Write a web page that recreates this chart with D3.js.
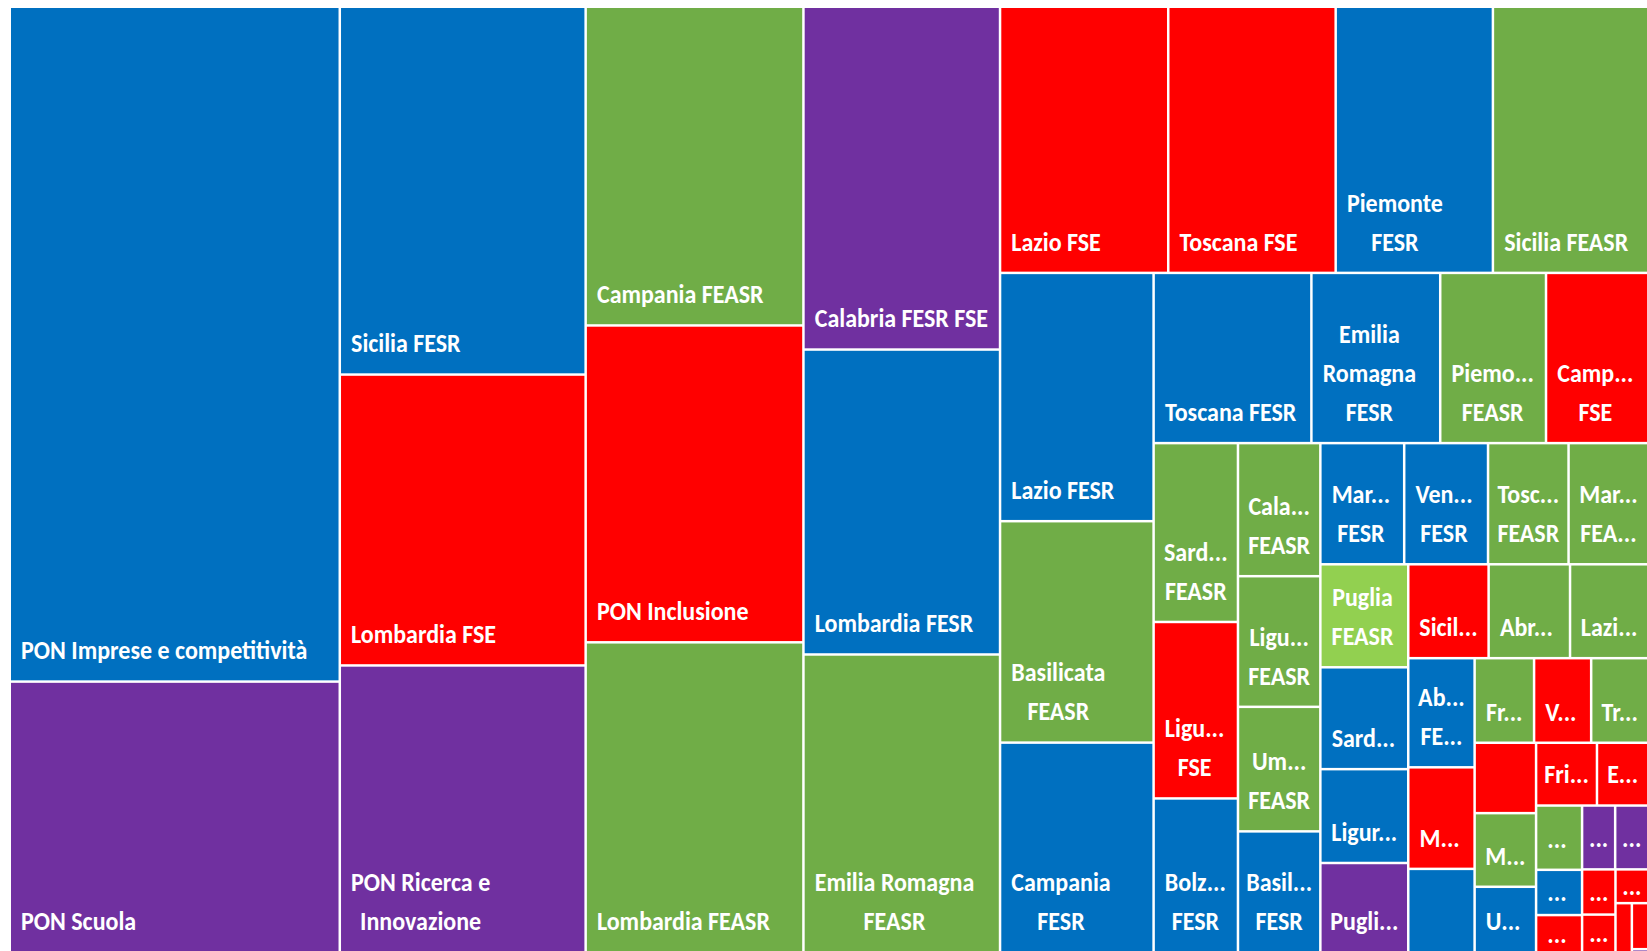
<!DOCTYPE html>
<html>
<head>
<meta charset="utf-8">
<script src="https://cdn.jsdelivr.net/npm/d3@7"></script>
<style>
    html, body { margin: 0; padding: 0; background: #ffffff; overflow: hidden; }
    #chart text {
        font-family: Carlito, Calibri, 'Liberation Sans Narrow', 'Arial Narrow', 'DejaVu Sans Condensed', sans-serif;
        font-weight: bold;
        font-size: 24px;
        fill: #ffffff;
    }
</style>
</head>
<body>
<svg id="chart"></svg>
<script>
// labels as shown in the picture ('|' = line break), in layout order
const labels = [
    'PON Imprese e competitività', 'PON Scuola',
    'Sicilia FESR', 'Lombardia FSE', 'PON Ricerca e|Innovazione',
    'Campania FEASR', 'PON Inclusione', 'Lombardia FEASR',
    'Calabria FESR FSE', 'Lombardia FESR', 'Emilia Romagna|FEASR',
    'Lazio FSE', 'Toscana FSE', 'Piemonte|FESR', 'Sicilia FEASR',
    'Lazio FESR', 'Basilicata|FEASR', 'Campania|FESR',
    'Toscana FESR', 'Emilia|Romagna|FESR', 'Piemo...|FEASR', 'Camp...|FSE',
    'Sard...|FEASR', 'Ligu...|FSE', 'Bolz...|FESR',
    'Cala...|FEASR', 'Ligu...|FEASR', 'Um...|FEASR', 'Basil...|FESR',
    'Mar...|FESR', 'Ven...|FESR', 'Tosc...|FEASR', 'Mar...|FEA...',
    'Puglia|FEASR', 'Sard...', 'Ligur...', 'Pugli...',
    'Sicil...', 'Abr...', 'Lazi...',
    'Ab...|FE...', 'M...', '',
    'Fr...', 'V...', 'Tr...',
    '', 'M...', 'U...',
    'Fri...', 'E...',
    '...', '...', '...',
    '...', '...',
    '...', '...',
    '...',
    '',
    '', ''
]

// fund of each programme
const funds = [
    'FESR', 'PLURI',
    'FESR', 'FSE', 'PLURI',
    'FEASR', 'FSE', 'FEASR',
    'PLURI', 'FESR', 'FEASR',
    'FSE', 'FSE', 'FESR', 'FEASR',
    'FESR', 'FEASR', 'FESR',
    'FESR', 'FESR', 'FEASR', 'FSE',
    'FEASR', 'FSE', 'FESR',
    'FEASR', 'FEASR', 'FEASR', 'FESR',
    'FESR', 'FESR', 'FEASR', 'FEASR',
    'FEASR', 'FESR', 'FESR', 'PLURI',
    'FSE', 'FEASR', 'FEASR',
    'FESR', 'FSE', 'FESR',
    'FEASR', 'FSE', 'FEASR',
    'FSE', 'FEASR', 'FESR',
    'FSE', 'FSE',
    'FEASR', 'FESR', 'FSE',
    'PLURI', 'PLURI',
    'FSE', 'FSE',
    'FSE',
    'FSE',
    'FSE', 'PLURI'
]

// relative amounts
const values = [
    221.4, 88.8,
    89.9, 71.1, 70.1,
    69.0, 68.6, 67.1,
    67.0, 59.6, 58.2,
    44.5, 44.3, 41.6, 41.1,
    37.9, 33.8, 32.0,
    26.7, 21.8, 17.9, 17.3,
    15.0, 14.8, 12.9,
    10.9, 10.7, 10.2, 9.9,
    10.1, 10.1, 9.7, 9.6,
    9.0, 8.9, 8.2, 7.8,
    7.5, 7.6, 7.3,
    7.2, 6.7, 5.5,
    5.0, 4.8, 4.8,
    4.3, 4.5, 4.0,
    3.8, 3.2,
    2.94, 2.07, 1.7,
    2.1, 2.1,
    1.5, 1.25,
    1.1,
    0.8,
    0.75, 0.05
]

// how the tiles are grouped into strips: 'v' = column on the left, 'h' = row on top
const strips = [2, 3, 3, 3, 4, 3, 4, 3, 4, 4, 4, 3, 3, 3, 3, 2, 3, 2, 2, 1, 1, 2]
const stripDirs = ['v', 'v', 'v', 'v', 'h', 'v', 'h', 'v', 'v', 'h', 'v', 'h', 'v', 'h', 'v', 'h', 'v', 'h', 'v', 'h', 'v', 'v']

const highlighted = 'Puglia|FEASR'

const fundColor = d3.scaleOrdinal()
    .domain(['FESR', 'FSE', 'FEASR', 'PLURI'])
    .range(['#0070c0', '#ff0000', '#70ad47', '#7030a0'])

// strip tiling, same idea as squarify but with the strips given above
const stripTile = (parent, x0, y0, x1, y1) => {
    const nodes = parent.children
    let rest = parent.value
    let i = 0
    strips.forEach((n, k) => {
        const children = nodes.slice(i, i + n)
        const row = { value: d3.sum(children, c => c.value), children }
        const last = k === strips.length - 1
        if (stripDirs[k] === 'v') {
            const xe = last ? x1 : x0 + (x1 - x0) * row.value / rest
            d3.treemapSlice(row, x0, y0, xe, y1)
            x0 = xe
        } else {
            const ye = last ? y1 : y0 + (y1 - y0) * row.value / rest
            d3.treemapDice(row, x0, y0, x1, ye)
            y0 = ye
        }
        rest -= row.value
        i += n
    })
}

const render = () => {
    const width = 1647, height = 951
    const margin = { top: 8, left: 11, right: 0, bottom: 0 }
    const lineH = 39
    const stretch = 1.13 // glyphs in the original are a bit taller than wide

    const items = labels.map((label, i) => ({ label, fund: funds[i], value: values[i] }))

    const root = d3.hierarchy({ children: items }).sum(d => d.value || 0)

    d3.treemap()
        .size([width - margin.left - margin.right, height - margin.top - margin.bottom])
        .paddingInner(2.5)
        .tile(stripTile)(root)

    const svg = d3.select('#chart')
        .attr('width', width)
        .attr('height', height)
        .append('g')
        .attr('transform', `translate(${margin.left},${margin.top})`)

    const cell = svg.selectAll('.cell')
        .data(root.leaves())
        .enter().append('g')
        .attr('class', 'cell')

    cell.append('rect')
        .attr('x', d => d.x0)
        .attr('y', d => d.y0)
        .attr('width', d => Math.max(0, d.x1 - d.x0))
        .attr('height', d => Math.max(0, d.y1 - d.y0))
        .style('fill', d => d.data.label === highlighted ? '#92d050' : fundColor(d.data.fund))

    // labels: block sits bottom-left, lines centred on each other
    cell.each(function (d) {
        if (!d.data.label) return
        const lines = d.data.label.split('|')
        const t = d3.select(this).append('text').attr('text-anchor', 'middle')
        const spans = lines.map(l => t.append('tspan').text(l))
        const w = d3.max(spans, s => s.node().getComputedTextLength())
        const cx = (d.x0 + d.x1) / 2, cy = (d.y0 + d.y1) / 2
        const left = Math.min(d.x0 + 10, cx - w / 2)
        const lastBase = Math.max(d.y1 - 21, cy + 9 + lineH * (lines.length - 1) / 2)
        t.attr('transform', `translate(${left + w / 2},${lastBase}) scale(1,${stretch})`)
        spans.forEach((s, i) => s
            .attr('x', 0)
            .attr('y', -lineH * (lines.length - 1 - i) / stretch))
    })
}

render()
</script>
</body>
</html>
